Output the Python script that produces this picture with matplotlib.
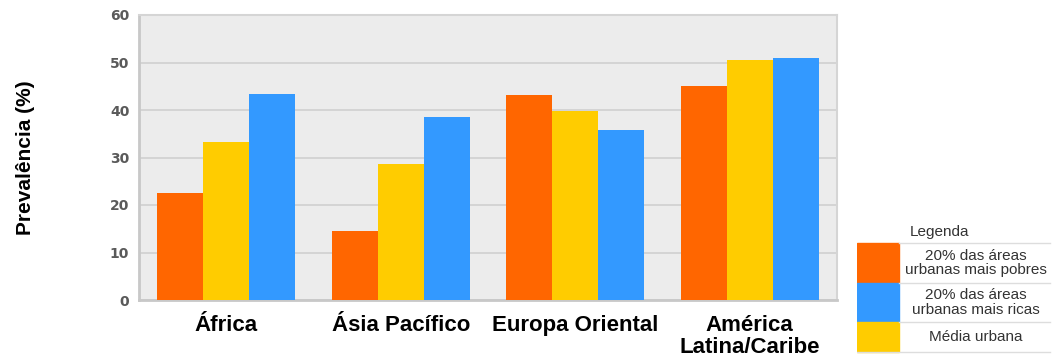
import matplotlib.pyplot as plt
from matplotlib.patches import Rectangle
import numpy as np

regioes = ["África", "Ásia Pacífico", "Europa Oriental", "América\nLatina/Caribe"]
pobres = [22.5, 14.5, 43.2, 45.0]
media = [33.2, 28.6, 39.8, 50.5]
ricas = [43.3, 38.5, 35.7, 51.0]

serie_nomes = ["20% das áreas\nurbanas mais pobres", "20% das áreas\nurbanas mais ricas", "Média urbana"]
cor_pobres = "#ff6600"
cor_media = "#ffcc00"
cor_ricas = "#3399ff"

plt.rcParams['font.family'] = ['Liberation Sans', 'DejaVu Sans']

fig = plt.figure(figsize=(10.52, 3.6), dpi=100)
ax = fig.add_axes([139 / 1052, 1 - 300 / 360, 698 / 1052, 285 / 360])
ax.set_facecolor("#ececec")

x = np.arange(len(regioes))
w = 0.264
ax.bar(x - w, pobres, w, color=cor_pobres, zorder=3)
ax.bar(x, media, w, color=cor_media, zorder=3)
ax.bar(x + w, ricas, w, color=cor_ricas, zorder=3)

ax.set_xlim(-0.5, 3.5)
ax.set_ylim(0, 60)
ax.set_yticks(range(0, 61, 10))
ax.yaxis.grid(True, color="#d0d0d0", linewidth=1.2, zorder=0)
ax.set_xticks(x, regioes, fontsize=16, fontweight="bold", linespacing=1.05)
ax.tick_params(axis='x', length=0, pad=11)
ax.tick_params(axis='y', length=0, pad=7, labelcolor="#5a5a5a")
for lab in ax.get_yticklabels():
    lab.set_fontweight("bold")
    lab.set_fontfamily("DejaVu Sans")
    lab.set_fontsize(10)
for side in ["top", "right"]:
    ax.spines[side].set_color("#d5d5d5")
    ax.spines[side].set_linewidth(1.5)
for side in ["left", "bottom"]:
    ax.spines[side].set_color("#c8c8c8")
    ax.spines[side].set_linewidth(2)
ax.set_ylabel("Prevalência (%)", fontsize=15, fontweight="bold", labelpad=54)

# legenda desenhada à mão, como no original
lg = fig.add_axes([857 / 1052, 0, 195 / 1052, 1])
lg.set_xlim(857, 1052)
lg.set_ylim(360, 0)
lg.axis("off")
lg.text(940, 232, "Legenda", ha="center", va="center", fontsize=11, color="#333333")
linhas = [(243, 283), (283, 322), (322, 352)]
cores = [cor_pobres, cor_ricas, cor_media]
for (y0, y1), cor, nome in zip(linhas, cores, serie_nomes):
    lg.add_patch(Rectangle((857, y0), 42, y1 - y0, color=cor))
    lg.plot([899, 1050], [y0, y0], color="#dddddd", lw=1)
    lg.text(976, (y0 + y1) / 2, nome, ha="center", va="center", fontsize=11,
            color="#333333", linespacing=1.05)
lg.plot([857, 1050], [352, 352], color="#dddddd", lw=1)

fig.savefig("out.png", dpi=100)
